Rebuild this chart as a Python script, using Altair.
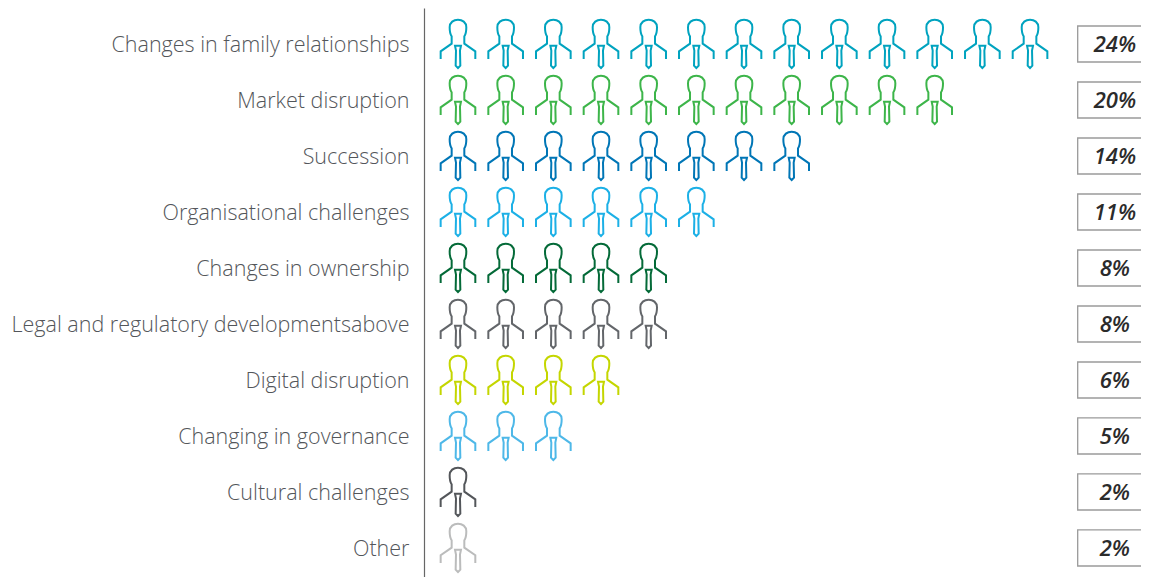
import altair as alt
import pandas as pd

categories = ["Changes in family relationships", "Market disruption", "Succession",
              "Organisational challenges", "Changes in ownership",
              "Legal and regulatory developmentsabove", "Digital disruption",
              "Changing in governance", "Cultural challenges", "Other"]
icon_counts = [13, 11, 8, 6, 5, 5, 4, 3, 1, 1]
percent_labels = ["24%", "20%", "14%", "11%", "8%", "8%", "6%", "5%", "2%", "2%"]
colors = ["#00A3BF", "#3DB54A", "#0076B6", "#1CB0E6", "#046A38",
          "#63666A", "#C4D600", "#4EB8E8", "#53565A", "#BBBCBC"]

PERSON = ("M-52 45L-52 22L-19 -1L-19 -23C-23 -28 -25 -38 -25 -50C-25 -65 -13 -73 0 -73"
          "C13 -73 25 -65 25 -50C25 -38 23 -28 19 -23L19 -1L52 22L52 45"
          "M-9 5L9 5L6 20L7 65L0 72L-7 65L-6 20Z")

icons = pd.DataFrame([{"category": c, "i": i + 1}
                      for c, n in zip(categories, icon_counts) for i in range(n)])
boxes = pd.DataFrame({"category": categories, "label": percent_labels,
                      "x0": 14.0, "x1": 15.6, "xt": 14.78})

xs = alt.Scale(domain=[0.287, 15.328], range=[0, 717])
ys = alt.Scale(domain=categories, paddingInner=0.357, paddingOuter=0.259, align=0.62)
yenc = alt.Y("category:N", scale=ys, sort=categories, title=None,
             axis=alt.Axis(ticks=False, grid=False, domainColor="#666666", domainWidth=1.2,
                           labelFont="Open Sans", labelFontWeight=300, labelFontSize=21.5,
                           labelColor="#53565A", labelPadding=15, labelLimit=420, labelOffset=2.5))

people = alt.Chart(icons).mark_point(shape=PERSON, size=0.444, filled=False, strokeWidth=2, opacity=1).encode(
    x=alt.X("i:Q", scale=xs, axis=None),
    y=yenc,
    color=alt.Color("category:N", scale=alt.Scale(domain=categories, range=colors), legend=None),
)
rects = alt.Chart(boxes).mark_rect(fill="white", stroke="#9A9A9A", strokeWidth=1.3, clip=True).encode(
    x=alt.X("x0:Q", scale=xs, axis=None), x2="x1:Q", y=yenc)
texts = alt.Chart(boxes).mark_text(font="Open Sans", fontWeight=600, fontStyle="italic",
                                   fontSize=22, color="#2B2B2B", dy=1).encode(
    x=alt.X("xt:Q", scale=xs, axis=None), y=yenc, text="label:N")

chart = alt.layer(people, rects, texts).properties(
    width=717, height=569,
    padding={"left": 416, "top": 0, "right": 0, "bottom": 0},
    autosize=alt.AutoSizeParams(type="none"),
).configure_view(stroke=None)

chart.save("out.html", embed_options={"renderer": "svg", "actions": False})
